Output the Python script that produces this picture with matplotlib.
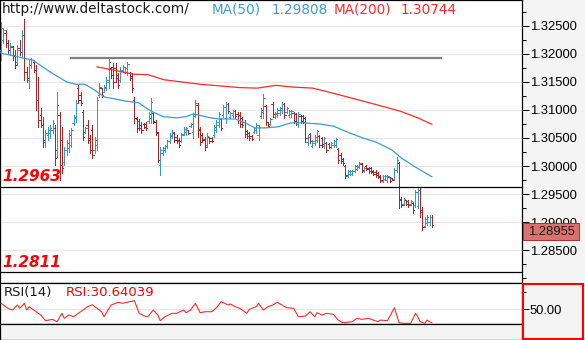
import matplotlib
matplotlib.use("Agg")
import matplotlib.pyplot as plt
import matplotlib.transforms as mtransforms
from matplotlib.patches import Rectangle
from matplotlib.ticker import FixedLocator, FormatStrFormatter
import numpy as np

# OHLC bars, oldest first
opens = [
    1.3207, 1.3225, 1.3237, 1.3220, 1.3207, 1.3213, 1.3198, 1.3186, 1.3211, 1.3204,
    1.3234, 1.3168, 1.3154, 1.3180, 1.3186, 1.3171, 1.3118, 1.3091, 1.3073, 1.3043,
    1.3055, 1.3059, 1.3064, 1.3068, 1.3029, 1.3091, 1.3046, 1.3007, 1.3029, 1.3032,
    1.3038, 1.3077, 1.3086, 1.3139, 1.3127, 1.3096, 1.3061, 1.3073, 1.3050, 1.3064,
    1.3029, 1.3038, 1.3127, 1.3139, 1.3132, 1.3139, 1.3150, 1.3175, 1.3177, 1.3175,
    1.3163, 1.3154, 1.3170, 1.3168, 1.3168, 1.3166, 1.3161, 1.3118, 1.3084,
    1.3080, 1.3073, 1.3075, 1.3075, 1.3080, 1.3086, 1.3095, 1.3079, 1.3059, 1.3002,
    1.3023, 1.3029, 1.3036, 1.3045, 1.3054, 1.3059, 1.3052, 1.3046, 1.3045, 1.3057,
    1.3061, 1.3064, 1.3071, 1.3061, 1.3093, 1.3109, 1.3066, 1.3055, 1.3048, 1.3038,
    1.3052, 1.3050, 1.3055, 1.3064, 1.3073, 1.3084,
    1.3091, 1.3086, 1.3111, 1.3088, 1.3091, 1.3098, 1.3093, 1.3091, 1.3086, 1.3079,
    1.3063, 1.3059, 1.3054, 1.3061, 1.3064, 1.3055, 1.3089, 1.3096, 1.3107, 1.3079,
    1.3075, 1.3111, 1.3088, 1.3093, 1.3095, 1.3100, 1.3111, 1.3096, 1.3091, 1.3093,
    1.3095,
    1.3093, 1.3075, 1.3089, 1.3089, 1.3086, 1.3043, 1.3057, 1.3036, 1.3041, 1.3046,
    1.3054, 1.3050, 1.3036, 1.3041, 1.3039, 1.3034, 1.3038, 1.3038, 1.3030, 1.3020,
    1.3013, 1.3000, 1.2982, 1.2986, 1.2986, 1.2991, 1.2995, 1.2998, 1.3004, 1.2991,
    1.3000,
    1.2996, 1.2996, 1.2991, 1.2989, 1.2987, 1.2982, 1.2973, 1.2977, 1.2975, 1.2980,
    1.2979, 1.2977, 1.2993, 1.3005, 1.2941, 1.2932, 1.2939, 1.2938, 1.2932, 1.2934,
    1.2930, 1.2929, 1.2957, 1.2921, 1.2893, 1.2898, 1.2900, 1.2909,
]
highs = [
    1.3257, 1.3246, 1.3243, 1.3225, 1.3220, 1.3214, 1.3207, 1.3216, 1.3225, 1.3243,
    1.3262, 1.3177, 1.3189, 1.3193, 1.3189, 1.3180, 1.3159, 1.3104, 1.3088, 1.3064,
    1.3070, 1.3073, 1.3082, 1.3073, 1.3132, 1.3096, 1.3070, 1.3034, 1.3046, 1.3064,
    1.3068, 1.3091, 1.3118, 1.3145, 1.3132, 1.3100, 1.3070, 1.3082, 1.3055, 1.3073,
    1.3052, 1.3123, 1.3148, 1.3139, 1.3145, 1.3159, 1.3193, 1.3177, 1.3184, 1.3184,
    1.3166, 1.3177, 1.3180, 1.3177, 1.3186, 1.3168, 1.3166, 1.3123, 1.3088,
    1.3084, 1.3079, 1.3077, 1.3079, 1.3096, 1.3121, 1.3096, 1.3082, 1.3061, 1.3034,
    1.3034, 1.3038, 1.3046, 1.3059, 1.3064, 1.3061, 1.3055, 1.3050, 1.3059, 1.3070,
    1.3070, 1.3064, 1.3077, 1.3095, 1.3118, 1.3113, 1.3070, 1.3059, 1.3052, 1.3059,
    1.3052, 1.3052, 1.3073, 1.3082, 1.3096, 1.3086,
    1.3109, 1.3114, 1.3113, 1.3096, 1.3100, 1.3100, 1.3096, 1.3096, 1.3088, 1.3082,
    1.3064, 1.3061, 1.3055, 1.3070, 1.3077, 1.3073, 1.3104, 1.3129, 1.3109, 1.3079,
    1.3086, 1.3114, 1.3096, 1.3104, 1.3105, 1.3114, 1.3113, 1.3105, 1.3100, 1.3100,
    1.3096,
    1.3095, 1.3096, 1.3091, 1.3091, 1.3088, 1.3055, 1.3059, 1.3046, 1.3055, 1.3064,
    1.3055, 1.3052, 1.3052, 1.3043, 1.3041, 1.3043, 1.3046, 1.3050, 1.3032, 1.3023,
    1.3014, 1.3002, 1.2993, 1.2993, 1.2993, 1.3002, 1.3002, 1.3007, 1.3005, 1.2998,
    1.3002,
    1.2998, 1.2998, 1.2993, 1.2993, 1.2989, 1.2984, 1.2984, 1.2984, 1.2984, 1.2980,
    1.2979, 1.2996, 1.3016, 1.3007, 1.2945, 1.2943, 1.2939, 1.2939, 1.2939, 1.2936,
    1.2957, 1.2961, 1.2961, 1.2927, 1.2909, 1.2912, 1.2912, 1.2912,
]
lows = [
    1.3189, 1.3220, 1.3213, 1.3202, 1.3198, 1.3189, 1.3175, 1.3180, 1.3198, 1.3195,
    1.3154, 1.3150, 1.3139, 1.3175, 1.3168, 1.3100, 1.3070, 1.3070, 1.3034, 1.3034,
    1.3046, 1.3050, 1.3059, 1.3002, 1.3016, 1.2975, 1.2987, 1.3002, 1.3020, 1.3025,
    1.3034, 1.3073, 1.3079, 1.3113, 1.3109, 1.3046, 1.3059, 1.3041, 1.3023, 1.3014,
    1.3023, 1.3029, 1.3123, 1.3123, 1.3132, 1.3136, 1.3139, 1.3157, 1.3139, 1.3150,
    1.3139, 1.3150, 1.3168, 1.3166, 1.3163, 1.3154, 1.3132, 1.3077, 1.3061,
    1.3064, 1.3059, 1.3068, 1.3064, 1.3077, 1.3077, 1.3077, 1.3055, 1.3007, 1.2984,
    1.3020, 1.3025, 1.3032, 1.3041, 1.3050, 1.3043, 1.3041, 1.3034, 1.3043, 1.3055,
    1.3055, 1.3057, 1.3070, 1.3050, 1.3088, 1.3052, 1.3038, 1.3043, 1.3029, 1.3034,
    1.3041, 1.3043, 1.3052, 1.3061, 1.3070, 1.3064,
    1.3088, 1.3077, 1.3095, 1.3086, 1.3088, 1.3086, 1.3077, 1.3070, 1.3070, 1.3052,
    1.3050, 1.3046, 1.3046, 1.3059, 1.3059, 1.3046, 1.3086, 1.3086, 1.3073, 1.3070,
    1.3073, 1.3088, 1.3086, 1.3088, 1.3091, 1.3095, 1.3086, 1.3095, 1.3088, 1.3088,
    1.3077,
    1.3073, 1.3070, 1.3077, 1.3077, 1.3043, 1.3038, 1.3041, 1.3034, 1.3038, 1.3043,
    1.3034, 1.3034, 1.3032, 1.3025, 1.3032, 1.3032, 1.3034, 1.3034, 1.3005, 1.3005,
    1.3002, 1.2979, 1.2980, 1.2984, 1.2984, 1.2989, 1.2993, 1.2996, 1.2989, 1.2989,
    1.2993,
    1.2987, 1.2987, 1.2984, 1.2980, 1.2979, 1.2971, 1.2971, 1.2975, 1.2971, 1.2971,
    1.2975, 1.2975, 1.2989, 1.2925, 1.2927, 1.2930, 1.2930, 1.2927, 1.2930, 1.2916,
    1.2927, 1.2925, 1.2909, 1.2886, 1.2891, 1.2895, 1.2895, 1.2891,
]
closes = [
    1.3246, 1.3243, 1.3220, 1.3207, 1.3214, 1.3196, 1.3180, 1.3207, 1.3204, 1.3234,
    1.3168, 1.3157, 1.3180, 1.3189, 1.3171, 1.3118, 1.3082, 1.3073, 1.3046, 1.3059,
    1.3064, 1.3068, 1.3077, 1.3014, 1.3109, 1.3002, 1.2996, 1.3029, 1.3041, 1.3055,
    1.3064, 1.3088, 1.3113, 1.3118, 1.3113, 1.3052, 1.3068, 1.3046, 1.3029, 1.3020,
    1.3046, 1.3118, 1.3141, 1.3127, 1.3141, 1.3154, 1.3186, 1.3163, 1.3150, 1.3157,
    1.3145, 1.3171, 1.3177, 1.3175, 1.3182, 1.3157, 1.3139, 1.3086, 1.3068,
    1.3068, 1.3064, 1.3070, 1.3068, 1.3093, 1.3114, 1.3080, 1.3061, 1.3011, 1.3029,
    1.3032, 1.3036, 1.3045, 1.3055, 1.3061, 1.3046, 1.3045, 1.3038, 1.3055, 1.3066,
    1.3068, 1.3059, 1.3075, 1.3089, 1.3113, 1.3064, 1.3043, 1.3046, 1.3034, 1.3054,
    1.3045, 1.3045, 1.3070, 1.3079, 1.3093, 1.3068,
    1.3105, 1.3111, 1.3098, 1.3095, 1.3098, 1.3089, 1.3082, 1.3075, 1.3073, 1.3057,
    1.3054, 1.3050, 1.3048, 1.3068, 1.3073, 1.3070, 1.3100, 1.3121, 1.3079, 1.3071,
    1.3084, 1.3093, 1.3095, 1.3100, 1.3104, 1.3111, 1.3091, 1.3104, 1.3098, 1.3098,
    1.3080,
    1.3079, 1.3093, 1.3080, 1.3079, 1.3050, 1.3052, 1.3045, 1.3045, 1.3052, 1.3063,
    1.3038, 1.3039, 1.3050, 1.3029, 1.3034, 1.3041, 1.3045, 1.3048, 1.3011, 1.3009,
    1.3005, 1.2984, 1.2991, 1.2991, 1.2991, 1.3000, 1.3000, 1.3005, 1.2993, 1.2996,
    1.2995,
    1.2991, 1.2989, 1.2986, 1.2984, 1.2980, 1.2975, 1.2982, 1.2982, 1.2982, 1.2973,
    1.2975, 1.2993, 1.3011, 1.2939, 1.2930, 1.2941, 1.2932, 1.2930, 1.2938, 1.2921,
    1.2954, 1.2957, 1.2918, 1.2891, 1.2905, 1.2909, 1.2909, 1.28955,
]

# moving averages, sampled at bar indices
ma50_idx = [-0.4, 13.6, 20.9, 28.1, 31.9, 35.7, 38.7, 44.3, 48.5, 52.8,
            58.7, 62.6, 65.1, 69.4, 74.9, 79.1, 82.1, 86.4, 89.4, 93.2,
            100, 104.3, 108.5, 112.8, 118.3, 123.8, 129.4, 136.2, 142.1, 147.7,
            154.5, 160, 166.8, 171.1, 177, 184]
ma50 = [1.3202, 1.3189, 1.3168, 1.3150, 1.3146, 1.3146, 1.3139, 1.3123, 1.3120, 1.3116,
        1.3113, 1.3102, 1.3096, 1.3088, 1.3086, 1.3088, 1.3093, 1.3089, 1.3086, 1.3084,
        1.3084, 1.3077, 1.3068, 1.3068, 1.3070, 1.3077, 1.3077, 1.3075, 1.3071, 1.3061,
        1.3050, 1.3043, 1.3029, 1.3014, 1.2998, 1.29808]
ma200_idx = [41, 49.5, 56.4, 62.8, 69.6, 85, 93.5, 102, 109.3, 117.4,
             124.3, 133.2, 141.8, 156.3, 170.4, 178, 184]
ma200 = [1.3177, 1.3170, 1.3164, 1.3163, 1.3154, 1.3146, 1.3143, 1.3140, 1.3139, 1.3144,
         1.3141, 1.3139, 1.3130, 1.3114, 1.3098, 1.3086, 1.30744]

# RSI(14)
rsi_idx = [0, 3, 5, 7, 8, 10, 11, 12, 15, 17, 19, 22, 24, 26, 27, 29, 31, 34, 37, 39,
           41, 43, 44, 47, 50, 52, 55, 57, 59, 62, 63, 65, 67, 68, 70, 73, 75, 78, 79, 81,
           83, 85, 87, 90, 92, 94, 97, 98, 100, 102, 105, 106, 109, 110, 112, 114, 116, 118,
           120, 122, 125, 127, 130, 132, 134, 135, 137, 139, 142, 144, 146, 150, 152, 154,
           157, 159, 161, 162, 165, 166, 168, 170, 172, 175, 177, 178, 179, 181, 182, 183, 184]
rsi = [58.7, 51.4, 49.0, 56.2, 51.4, 58.7, 49.0, 53.8, 46.5, 41.8, 33.6, 35.5, 32.1, 44.2,
       37.0, 41.8, 39.3, 46.5, 53.8, 56.6, 51.4, 46.5, 39.3, 56.2, 60.1, 58.7, 61.0, 62.4,
       44.2, 39.3, 40.3, 49.0, 41.8, 33.6, 39.3, 44.2, 44.2, 49.0, 45.1, 49.0, 58.7, 45.1,
       46.5, 46.5, 52.3, 61.0, 56.2, 57.7, 53.8, 51.4, 44.2, 50.0, 53.8, 58.7, 49.0, 53.8,
       56.2, 60.1, 56.2, 52.3, 51.4, 39.3, 40.3, 46.5, 39.3, 45.1, 41.8, 44.2, 42.7, 34.5,
       30.6, 32.1, 37.0, 35.5, 37.0, 34.5, 32.1, 34.5, 33.6, 39.3, 52.3, 30.6, 29.8, 29.8,
       44.2, 39.3, 32.1, 29.8, 34.5, 32.1, 30.64039]

levels = [1.2963, 1.2811]
resistance = 1.3193
resistance_span = (29.5, 188.3)

price_ticks = [1.285, 1.290, 1.295, 1.300, 1.305, 1.310, 1.315, 1.320, 1.325]
price_minor = [1.2800, 1.2825, 1.2875, 1.2925, 1.2975, 1.3025, 1.3075, 1.3125,
               1.3175, 1.3225, 1.3275]

UP = "#3399cc"
DOWN = "#b22222"
MA50_COLOR = "#3d9bd6"
MA200_COLOR = "#ff2a2a"
PANEL_BG = "#f4f4f4"
GRID = "#e6e6e6"

plt.rcParams["font.family"] = "Liberation Sans"

W, H = 585, 340
PLOT_W = 522


def style_right_axis(ax):
    ax.yaxis.tick_right()
    ax.tick_params(axis="y", which="major", length=5, width=0.7, pad=0.5,
                   labelsize=9.4, colors="black")
    ax.tick_params(axis="y", which="minor", length=3, width=0.7, colors="black")
    ax.tick_params(axis="x", which="both", bottom=False, labelbottom=False)
    for sp in ax.spines.values():
        sp.set_color("black")
        sp.set_linewidth(0.9)


def draw_price(ax):
    x = np.arange(len(closes))
    o, h, l, c = (np.asarray(v) for v in (opens, highs, lows, closes))
    colors = np.where(c >= o, UP, DOWN)

    bar_kw = dict(colors=colors, lw=0.66, antialiased=False, zorder=3)
    ax.vlines(x, l, h, **bar_kw)
    ax.hlines(o, x - 0.55, x, **bar_kw)
    ax.hlines(c, x, x + 0.55, **bar_kw)

    ax.plot(ma50_idx, ma50, color=MA50_COLOR, lw=0.9, zorder=4)
    ax.plot(ma200_idx, ma200, color=MA200_COLOR, lw=0.9, zorder=4)

    ax.hlines(resistance, *resistance_span, color="#808080", lw=1.6, zorder=4)
    for lv in levels:
        ax.axhline(lv, color="black", lw=0.9, zorder=4)
        ax.annotate(f"{lv:.4f}", (0, lv), xycoords=("axes fraction", "data"),
                    xytext=(2, 3.8), textcoords="offset points",
                    ha="left", va="baseline", color="#ff0000",
                    fontsize=11, fontweight="bold", fontstyle="italic",
                    family="DejaVu Sans", zorder=5)

    ax.set_xlim(-0.43, 222.5)
    ax.set_ylim(1.27911, 1.32964)
    ax.yaxis.set_major_locator(FixedLocator(price_ticks))
    ax.yaxis.set_minor_locator(FixedLocator(price_minor))
    ax.yaxis.set_major_formatter(FormatStrFormatter("%.5f"))
    ax.grid(axis="y", which="major", color=GRID, lw=0.8)
    ax.set_axisbelow(True)
    style_right_axis(ax)

    # header
    hdr = dict(transform=ax.transAxes, va="center", ha="left", fontsize=9.8,
               family="DejaVu Sans", zorder=6)
    y_hdr = 1 - 9.5 / 283
    ax.text(2 / PLOT_W, y_hdr, "http://www.deltastock.com/", color="#1a1a1a", **hdr)
    ax.text(212 / PLOT_W, y_hdr, "MA(50)", color=MA50_COLOR, **hdr)
    ax.text(272 / PLOT_W, y_hdr, f"{ma50[-1]:.5f}", color=MA50_COLOR, **hdr)
    ax.text(334 / PLOT_W, y_hdr, "MA(200)", color=MA200_COLOR, **hdr)
    ax.text(401 / PLOT_W, y_hdr, f"{ma200[-1]:.5f}", color=MA200_COLOR, **hdr)

    # last price marker on the axis, drawn over the 1.29000 label
    last = closes[-1]
    trans = mtransforms.blended_transform_factory(ax.transAxes, ax.transData)
    box_top = last + 0.00027
    box_h = 0.00304
    ax.add_patch(Rectangle((1.001, box_top), 0.109, -box_h, transform=trans,
                           facecolor="#d9726e", edgecolor="#a83434", lw=0.75,
                           clip_on=False, zorder=6))
    ax.text(1.0555, box_top - box_h / 2, f"{last:.5f}", transform=trans,
            ha="center", va="center", fontsize=9.4, color="#1a1a1a",
            clip_on=False, zorder=7)


def draw_rsi(ax):
    ax.axhline(50, color=GRID, lw=0.8, zorder=1)
    ax.plot(rsi_idx, rsi, color="#ff2020", lw=0.75, zorder=3)
    ax.set_ylim(28.8, 88)
    ax.yaxis.set_major_locator(FixedLocator([50]))
    ax.yaxis.set_minor_locator(FixedLocator([75]))
    ax.yaxis.set_major_formatter(FormatStrFormatter("%.2f"))
    style_right_axis(ax)

    y_lbl = 0.763
    ax.text(4 / PLOT_W, y_lbl, "RSI(14)", transform=ax.transAxes, va="center",
            fontsize=9.5, family="DejaVu Sans", color="#1a1a1a")
    ax.text(66 / PLOT_W, y_lbl, f"RSI:{rsi[-1]:.5f}", transform=ax.transAxes,
            va="center", fontsize=9.5, family="DejaVu Sans", color="#ff0000")


def main() -> None:
    fig = plt.figure(figsize=(W / 100, H / 100), dpi=100, facecolor=PANEL_BG)

    ax = fig.add_axes([0, 57 / H, PLOT_W / W, 283 / H], facecolor="white")
    ax_rsi = fig.add_axes([0, 16 / H, PLOT_W / W, 41 / H], facecolor="white", sharex=ax)
    ax_strip = fig.add_axes([0, 0, PLOT_W / W, 16 / H], facecolor=PANEL_BG)

    draw_price(ax)
    draw_rsi(ax_rsi)

    ax_strip.set_xticks([])
    ax_strip.set_yticks([])
    for sp in ax_strip.spines.values():
        sp.set_color("black")
        sp.set_linewidth(0.9)

    # outline around the indicator scale
    fig.add_artist(Rectangle((523 / W, 1 / H), 60 / W, 55 / H, transform=fig.transFigure,
                             fill=False, edgecolor="#ff0000", lw=1.5))

    fig.savefig("out.png", dpi=100, facecolor=fig.get_facecolor())


if __name__ == "__main__":
    main()
